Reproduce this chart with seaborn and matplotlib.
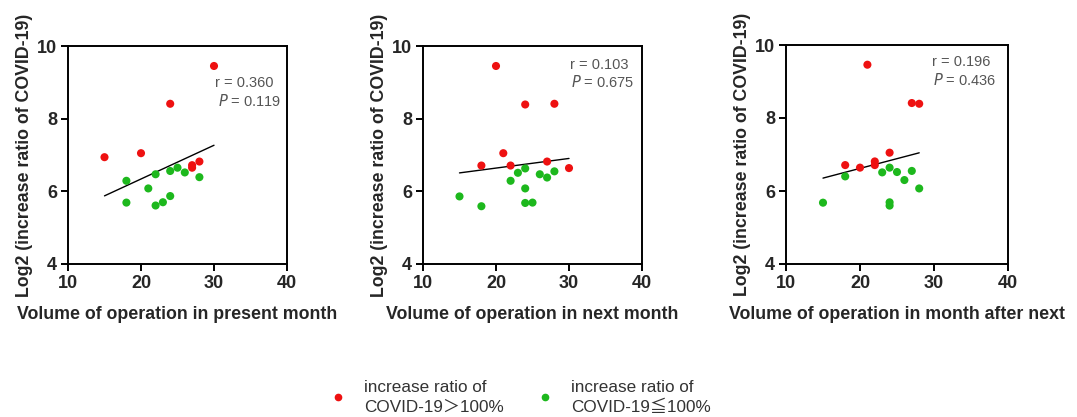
import numpy as np
import pandas as pd
import matplotlib
matplotlib.use("Agg")
import matplotlib.pyplot as plt
import seaborn as sns
from matplotlib.lines import Line2D

# ---- data ----
group_labels = ["increase ratio of\nCOVID-19＞100%", "increase ratio of\nCOVID-19≦100%"]

# panel 1: present month
p1_red_x = [30, 24, 15, 20, 27, 27, 28]
p1_red_y = [9.45, 8.41, 6.94, 7.05, 6.72, 6.65, 6.82]
p1_green_x = [18, 18, 22, 21, 22, 23, 24, 24, 25, 26, 28]
p1_green_y = [6.29, 5.69, 5.61, 6.08, 6.47, 5.70, 5.87, 6.56, 6.65, 6.52, 6.39]

# panel 2: next month
p2_red_x = [20, 24, 28, 21, 18, 22, 27, 30]
p2_red_y = [9.45, 8.39, 8.41, 7.05, 6.71, 6.71, 6.82, 6.64]
p2_green_x = [15, 18, 22, 23, 24, 24, 24, 25, 26, 27, 28]
p2_green_y = [5.86, 5.59, 6.29, 6.51, 6.63, 6.08, 5.68, 5.69, 6.47, 6.38, 6.55]

# panel 3: month after next
p3_red_x = [21, 27, 28, 24, 18, 20, 22, 22]
p3_red_y = [9.46, 8.41, 8.39, 7.05, 6.71, 6.64, 6.81, 6.71]
p3_green_x = [15, 18, 23, 24, 24, 24, 25, 26, 27, 28]
p3_green_y = [5.68, 6.40, 6.51, 6.64, 5.69, 5.60, 6.52, 6.30, 6.55, 6.07]

x_labels = ["Volume of operation in present month",
            "Volume of operation in next month",
            "Volume of operation in month after next"]
y_label = "Log2 (increase ratio of COVID-19)"
r_values = ["0.360", "0.103", "0.196"]
p_values = ["0.119", "0.675", "0.436"]
x_ticks = [10, 20, 30, 40]
y_ticks = [4, 6, 8, 10]

panels = [
    (p1_red_x, p1_red_y, p1_green_x, p1_green_y),
    (p2_red_x, p2_red_y, p2_green_x, p2_green_y),
    (p3_red_x, p3_red_y, p3_green_x, p3_green_y),
]

RED = "#EE1111"
GREEN = "#1DB81D"
palette = {group_labels[0]: RED, group_labels[1]: GREEN}

sns.set_theme(style="ticks")
plt.rcParams["font.family"] = ["Liberation Sans", "Noto Sans CJK SC", "DejaVu Sans"]

fig = plt.figure(figsize=(10.77, 4.17), dpi=100)
W, H = 1077, 417
boxes = [(68, 46, 287, 264), (423, 46, 642, 264), (786, 45, 1008, 264)]
text_pos = [((30.2, 8.98), (30.5, 8.49)),
            ((30.1, 9.49), (30.3, 9.01)),
            ((29.7, 9.53), (29.9, 9.04))]

for i, (rx, ry, gx, gy) in enumerate(panels):
    l, t, r, b = boxes[i]
    ax = fig.add_axes([l / W, (H - b) / H, (r - l) / W, (b - t) / H])
    df = pd.DataFrame({
        "x": rx + gx,
        "y": ry + gy,
        "group": [group_labels[0]] * len(rx) + [group_labels[1]] * len(gx),
    })
    sns.regplot(data=df, x="x", y="y", scatter=False, ci=None, ax=ax,
                color="black", line_kws={"lw": 1.0}, truncate=True)
    sns.scatterplot(data=df, x="x", y="y", hue="group", palette=palette,
                    s=34, edgecolor="none", ax=ax, legend=False, zorder=3)
    ax.set_xlim(10, 40)
    ax.set_ylim(4, 10)
    ax.set_xticks(x_ticks)
    ax.set_yticks(y_ticks)
    for lab in ax.get_xticklabels() + ax.get_yticklabels():
        lab.set_fontweight("bold")
        lab.set_fontsize(13)
    ax.tick_params(direction="out", length=5, width=1.4, color="black", pad=3)
    for s in ["left", "bottom", "top", "right"]:
        ax.spines[s].set_linewidth(1.4)
        ax.spines[s].set_color("black")
        ax.spines[s].set_visible(True)
    ax.set_xlabel(x_labels[i], fontsize=12.8, fontweight="bold", labelpad=10)
    ax.set_ylabel(y_label, fontsize=12.8, fontweight="bold", labelpad=3)
    (tx1, ty1), (tx2, ty2) = text_pos[i]
    ax.text(tx1, ty1, f"r = {r_values[i]}", fontsize=10.5, color="#555555", va="center")
    ax.text(tx2, ty2, "$\\it{P}$" + f" = {p_values[i]}", fontsize=10.5, color="#555555", va="center")

handles = [Line2D([], [], marker="o", ls="none", color=RED, markersize=4.5),
           Line2D([], [], marker="o", ls="none", color=GREEN, markersize=4.5)]
leg = fig.legend(handles, group_labels, loc="center", bbox_to_anchor=(0.483, 0.047),
                 ncol=2, frameon=False, fontsize=12.3, handletextpad=1.0,
                 columnspacing=1.95, labelcolor="#333333", handlelength=1.0,
                 labelspacing=0.2)
for t in leg.get_texts():
    t.set_linespacing(1.4)

fig.savefig("out.png", dpi=100, facecolor="white")
